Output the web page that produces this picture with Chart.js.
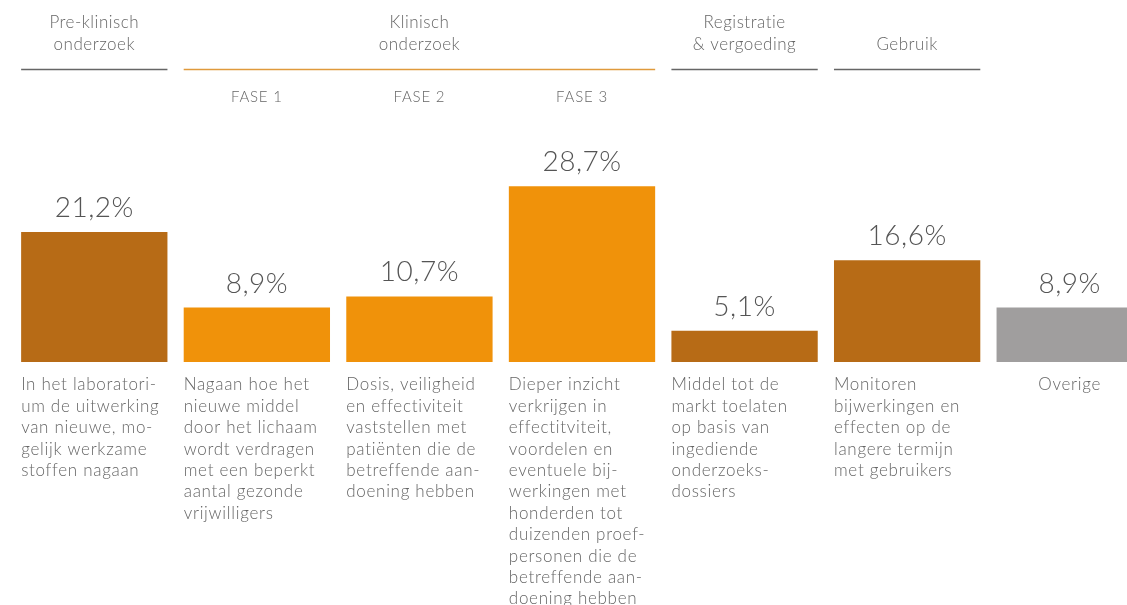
<!DOCTYPE html>
<html>
<head>
<meta charset="utf-8">
<script src="https://cdn.jsdelivr.net/npm/chart.js@4/dist/chart.umd.min.js"></script>
<style>
  html, body { margin: 0; padding: 0; overflow: hidden; background: #fff; }
  canvas { display: block; }
</style>
</head>
<body>
<canvas id="chart" width="1151" height="605" role="img" aria-label="Kosten per fase van geneesmiddelontwikkeling"></canvas>
<script>
const categories = ['Pre-klinisch', 'Fase 1', 'Fase 2', 'Fase 3', 'Registratie', 'Gebruik', 'Overige'];
const values = [21.2, 8.9, 10.7, 28.7, 5.1, 16.6, 8.9];
const barColors = ['#b76b16', '#f0920a', '#f0920a', '#f0920a', '#b76b16', '#b76b16', '#a09e9e'];
const phaseLabels = ['', 'FASE 1', 'FASE 2', 'FASE 3', '', '', ''];
const groupLabels = [['Pre-klinisch', 'onderzoek'], ['Klinisch', 'onderzoek'], ['Registratie', '& vergoeding'], ['Gebruik']];
const groupSpans = [[0, 0], [1, 3], [4, 4], [5, 5]];
const groupLineColors = ['#666666', '#e09a3c', '#666666', '#666666'];
const descriptions = [
  ['In het laboratori-', 'um de uitwerking', 'van nieuwe, mo-', 'gelijk werkzame', 'stoffen nagaan'],
  ['Nagaan hoe het', 'nieuwe middel', 'door het lichaam', 'wordt verdragen', 'met een beperkt', 'aantal gezonde', 'vrijwilligers'],
  ['Dosis, veiligheid', 'en effectiviteit', 'vaststellen met', 'patiënten die de', 'betreffende aan-', 'doening hebben'],
  ['Dieper inzicht', 'verkrijgen in', 'effectitviteit,', 'voordelen en', 'eventuele bij-', 'werkingen met', 'honderden tot', 'duizenden proef-', 'personen die de', 'betreffende aan-', 'doening hebben'],
  ['Middel tot de', 'markt toelaten', 'op basis van', 'ingediende', 'onderzoeks-', 'dossiers'],
  ['Monitoren', 'bijwerkingen en', 'effecten op de', 'langere termijn', 'met gebruikers'],
  ['Overige']
];

const FONT = "Lato, 'Open Sans', sans-serif";
const TEXT = '#666666';

const fmt = v => v.toFixed(1).replace('.', ',') + '%';

const annotations = {
  id: 'annotations',
  afterDatasetsDraw(chart) {
    const { ctx } = chart;
    const x = chart.scales.x;
    const y = chart.scales.y;
    const bars = chart.getDatasetMeta(0).data;
    const half = i => bars[i].width / 2;

    ctx.save();

    // group headers with rule underneath
    groupLabels.forEach((lines, g) => {
      const [from, to] = groupSpans[g];
      const x0 = x.getPixelForValue(from) - half(from);
      const x1 = x.getPixelForValue(to) + half(to);
      ctx.strokeStyle = groupLineColors[g];
      ctx.lineWidth = 1.3;
      ctx.beginPath();
      ctx.moveTo(x0, 69.5);
      ctx.lineTo(x1, 69.5);
      ctx.stroke();

      ctx.fillStyle = TEXT;
      ctx.font = `300 17px ${FONT}`;
      ctx.letterSpacing = '0.5px';
      ctx.textAlign = 'center';
      ctx.textBaseline = 'middle';
      lines.forEach((line, k) => {
        const yy = 45 - (lines.length - 1 - k) * 22;
        ctx.fillText(line, (x0 + x1) / 2, yy);
      });
    });

    // phase labels
    ctx.font = `300 15px ${FONT}`;
    ctx.letterSpacing = '0.8px';
    phaseLabels.forEach((p, i) => {
      if (p) ctx.fillText(p, x.getPixelForValue(i), 97);
    });

    // value labels
    ctx.fillStyle = '#555555';
    ctx.font = `300 28px ${FONT}`;
    ctx.letterSpacing = '0.5px';
    values.forEach((v, i) => {
      ctx.fillText(fmt(v), x.getPixelForValue(i), y.getPixelForValue(v) - 24);
    });

    // descriptions under the bars
    ctx.fillStyle = TEXT;
    ctx.font = `300 17px ${FONT}`;
    ctx.letterSpacing = '0.7px';
    descriptions.forEach((lines, i) => {
      const single = lines.length === 1;
      ctx.textAlign = single ? 'center' : 'left';
      const xx = single ? x.getPixelForValue(i) : x.getPixelForValue(i) - half(i);
      lines.forEach((line, k) => {
        ctx.fillText(line, xx, 385 + k * 21.4);
      });
    });

    ctx.restore();
  }
};

new Chart(document.getElementById('chart'), {
  type: 'bar',
  data: {
    labels: categories,
    datasets: [{
      data: values,
      backgroundColor: barColors,
      borderWidth: 0,
      barPercentage: 0.9,
      categoryPercentage: 1
    }]
  },
  options: {
    responsive: false,
    animation: false,
    layout: { padding: { left: 13, right: 0, top: 120, bottom: 243 } },
    scales: {
      x: { display: false },
      y: { display: false, min: 0, max: 39.5 }
    },
    plugins: {
      legend: { display: false },
      tooltip: { enabled: false }
    }
  },
  plugins: [annotations]
});
</script>
</body>
</html>
